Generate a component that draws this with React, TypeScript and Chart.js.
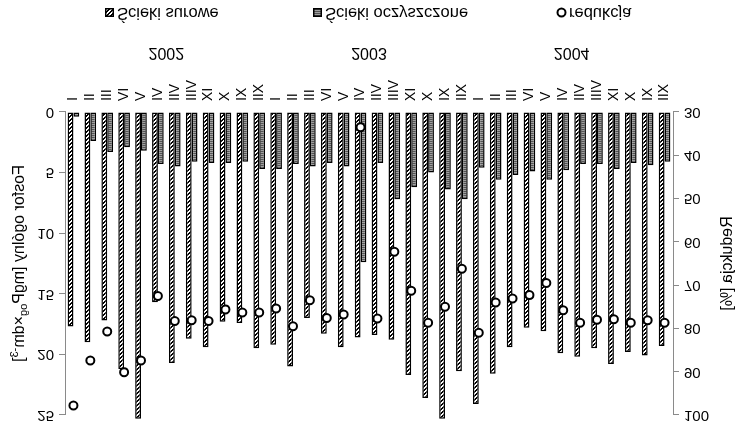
import React, { useEffect, useRef } from 'react';
import { Chart, registerables } from 'chart.js';

Chart.register(...registerables);

// ---------- data ----------
const months = ['I', 'II', 'III', 'IV', 'V', 'VI', 'VII', 'VIII', 'IX', 'X', 'XI', 'XII'];
const years = ['2002', '2003', '2004'];
const categories = years.flatMap(() => months);

const surowe2002 = [17.7, 19.0, 17.2, 21.2, 25.3, 15.7, 20.7, 18.7, 19.4, 17.3, 17.4, 19.5];
const surowe2003 = [19.2, 21.0, 17.0, 18.3, 19.4, 18.6, 18.4, 18.8, 21.7, 23.6, 25.3, 21.4];
const surowe2004 = [24.1, 21.6, 19.4, 17.8, 18.1, 19.9, 20.2, 19.5, 20.8, 19.8, 20.1, 19.3];

const oczyszczone2002 = [0.4, 2.4, 3.3, 2.9, 3.2, 4.3, 4.5, 4.1, 4.2, 4.2, 4.1, 4.7];
const oczyszczone2003 = [4.7, 4.3, 4.5, 4.2, 4.5, 12.4, 4.2, 7.2, 6.2, 5.0, 6.4, 7.2];
const oczyszczone2004 = [4.6, 5.6, 5.2, 4.9, 5.6, 4.8, 4.3, 4.3, 4.7, 4.2, 4.4, 4.1];

const redukcja2002 = [97.8, 87.4, 80.7, 90.1, 87.4, 72.5, 78.3, 78.1, 78.3, 75.6, 76.3, 76.3];
const redukcja2003 = [75.4, 79.5, 73.5, 77.6, 76.8, 33.5, 77.7, 62.3, 71.3, 78.7, 75.0, 66.2];
const redukcja2004 = [81.0, 74.0, 73.1, 72.3, 69.5, 75.8, 78.7, 78.0, 77.9, 78.7, 78.1, 78.7];

const seriesNames = ['Ścieki surowe', 'Ścieki oczyszczone', 'redukcja'];
const leftTitle = [
  { t: 'Fosfor ogólny [mgP', k: 'n' },
  { t: 'og', k: 'sub' },
  { t: '×dm', k: 'n' },
  { t: '-3', k: 'sup' },
  { t: ']', k: 'n' },
];
const rightTitle = 'Redukcja [%]';

// ---------- styling ----------
const W = 741;
const H = 430;
const FONT = '"Liberation Sans", Arial, sans-serif';

function makeHatch(): CanvasPattern | string {
  const c = document.createElement('canvas');
  c.width = 4; c.height = 4;
  const g = c.getContext('2d')!;
  g.fillStyle = '#ffffff';
  g.fillRect(0, 0, 4, 4);
  g.fillStyle = '#000000';
  for (let i = 0; i < 4; i++) {
    g.fillRect(i, i, 1, 1);
    g.fillRect((i + 1) % 4, i, 1, 1);
  }
  return g.createPattern(c, 'repeat') || '#888';
}

function makeStripes(): CanvasPattern | string {
  const c = document.createElement('canvas');
  c.width = 2; c.height = 2;
  const g = c.getContext('2d')!;
  g.fillStyle = '#555555';
  g.fillRect(0, 0, 2, 1);
  g.fillStyle = '#a0a0a0';
  g.fillRect(0, 1, 2, 1);
  return g.createPattern(c, 'repeat') || '#888';
}

export default function App() {
  const ref = useRef<HTMLCanvasElement | null>(null);

  useEffect(() => {
    const canvas = ref.current;
    if (!canvas) return;
    const hatch = makeHatch();
    const stripes = makeStripes();

    const extras = {
      id: 'extras',
      afterDraw(chart: any) {
        const ctx: CanvasRenderingContext2D = chart.ctx;
        const x = chart.scales.x;
        const area = chart.chartArea;
        ctx.save();
        ctx.fillStyle = '#000';
        // year labels
        ctx.font = `16px ${FONT}`;
        ctx.textAlign = 'center';
        ctx.textBaseline = 'middle';
        years.forEach((y, i) => {
          const px = x.getPixelForValue(i * 12 + 5.5);
          ctx.fillText(y, px, 378);
        });

        // left title (rich text)
        const cy = (area.top + area.bottom) / 2;
        const segs = leftTitle.map((s) => ({
          ...s,
          font: s.k === 'n' ? `16px ${FONT}` : `11px ${FONT}`,
          dy: s.k === 'sub' ? 4 : s.k === 'sup' ? -5 : 0,
        }));
        let total = 0;
        const widths = segs.map((s) => {
          ctx.font = s.font;
          const w = ctx.measureText(s.t).width;
          total += w;
          return w;
        });
        ctx.save();
        ctx.translate(20, cy);
        ctx.rotate(-Math.PI / 2);
        ctx.textAlign = 'left';
        let xx = -total / 2;
        segs.forEach((s, i) => {
          ctx.font = s.font;
          ctx.fillText(s.t, xx, s.dy);
          xx += widths[i];
        });
        ctx.restore();

        // right title
        ctx.save();
        ctx.translate(728, cy);
        ctx.rotate(-Math.PI / 2);
        ctx.font = `16px ${FONT}`;
        ctx.textAlign = 'center';
        ctx.fillText(rightTitle, 0, 0);
        ctx.restore();

        // legend
        const ly = 417.5;
        ctx.font = `16.5px ${FONT}`;
        ctx.textAlign = 'left';
        const items = [
          { x: 105, kind: 'hatch' },
          { x: 313, kind: 'stripes' },
          { x: 557, kind: 'circle' },
        ];
        items.forEach((it, i) => {
          if (it.kind === 'circle') {
            ctx.beginPath();
            ctx.arc(it.x + 4.5, ly, 4, 0, Math.PI * 2);
            ctx.fillStyle = '#fff';
            ctx.fill();
            ctx.lineWidth = 2;
            ctx.strokeStyle = '#000';
            ctx.stroke();
          } else {
            ctx.fillStyle = it.kind === 'hatch' ? (hatch as any) : (stripes as any);
            ctx.fillRect(it.x, ly - 4.5, 9, 9);
            ctx.lineWidth = 1.5;
            ctx.strokeStyle = '#000';
            ctx.strokeRect(it.x + 0.75, ly - 3.75, 7.5, 7.5);
          }
          ctx.fillStyle = '#000';
          ctx.fillText(seriesNames[i], it.x + 12, ly);
        });
        ctx.restore();
      },
    };

    const gridY = {
      drawOnChartArea: false,
      drawTicks: true,
      tickLength: 6,
      color: '#8a8a8a',
      lineWidth: 1,
    };

    const chart = new Chart(canvas, {
      type: 'bar',
      data: {
        labels: categories,
        datasets: [
          {
            type: 'line',
            label: seriesNames[2],
            data: [...redukcja2002, ...redukcja2003, ...redukcja2004],
            yAxisID: 'y1',
            showLine: false,
            pointRadius: 4,
            pointBorderWidth: 2,
            pointBackgroundColor: '#ffffff',
            pointBorderColor: '#000000',
            borderColor: '#000000',
            order: 0,
            clip: false,
          } as any,
          {
            label: seriesNames[0],
            data: [...surowe2002, ...surowe2003, ...surowe2004],
            backgroundColor: hatch as any,
            borderColor: '#000',
            borderWidth: 1.5,
            borderSkipped: false,
            yAxisID: 'y',
            order: 1,
            clip: false,
          } as any,
          {
            label: seriesNames[1],
            data: [...oczyszczone2002, ...oczyszczone2003, ...oczyszczone2004],
            backgroundColor: stripes as any,
            borderColor: '#000',
            borderWidth: 1.5,
            borderSkipped: false,
            yAxisID: 'y',
            order: 1,
          } as any,
        ],
      },
      options: {
        responsive: false,
        animation: false,
        events: [],
        devicePixelRatio: 1,
        layout: { padding: { top: 15, bottom: 0, left: 0, right: 0 } },
        datasets: { bar: { categoryPercentage: 0.69, barPercentage: 1.0 } },
        plugins: {
          legend: { display: false },
          tooltip: { enabled: false },
          title: { display: false },
        },
        scales: {
          x: {
            grid: { display: false, drawTicks: false },
            border: { display: false },
            ticks: {
              autoSkip: false,
              maxRotation: 90,
              minRotation: 90,
              padding: 11,
              color: '#000',
              font: { family: FONT, size: 14 },
            },
            afterFit(scale: any) {
              scale.height = 112;
            },
          },
          y: {
            position: 'left',
            min: 0,
            max: 25,
            grid: gridY,
            border: { display: true, color: '#8a8a8a' },
            ticks: {
              stepSize: 5,
              padding: 5,
              color: '#000',
              font: { family: FONT, size: 15 },
            },
            afterFit(scale: any) {
              scale.width = 65;
            },
          },
          y1: {
            position: 'right',
            min: 30,
            max: 100,
            grid: gridY,
            border: { display: true, color: '#8a8a8a' },
            ticks: {
              stepSize: 10,
              padding: 5,
              color: '#000',
              font: { family: FONT, size: 15 },
            },
            afterFit(scale: any) {
              scale.width = 68;
            },
          },
        },
      } as any,
      plugins: [extras],
    });

    return () => chart.destroy();
  }, []);

  return (
    <div style={{ position: 'fixed', left: 0, top: 0, width: W, height: H, background: '#fff' }}>
      <canvas
        ref={ref}
        width={W}
        height={H}
        style={{ display: 'block', width: W, height: H, transform: 'scaleY(-1)' }}
      />
    </div>
  );
}
